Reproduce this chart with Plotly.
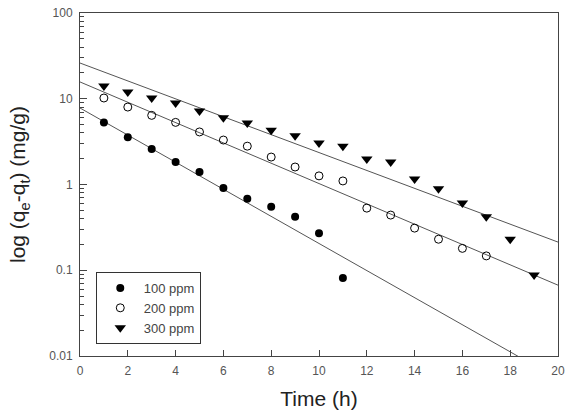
import plotly.graph_objects as go

# Data
t100 = [1, 2, 3, 4, 5, 6, 7, 8, 9, 10, 11]
q100 = [5.3, 3.55, 2.6, 1.83, 1.40, 0.91, 0.68, 0.55, 0.42, 0.27, 0.081]

t200 = [1, 2, 3, 4, 5, 6, 7, 8, 9, 10, 11, 12, 13, 14, 15, 16, 17]
q200 = [10.2, 8.0, 6.4, 5.3, 4.1, 3.3, 2.8, 2.09, 1.6, 1.26, 1.1, 0.53, 0.44, 0.31, 0.23, 0.18, 0.147]

t300 = [1, 2, 3, 4, 5, 6, 7, 8, 9, 10, 11, 12, 13, 14, 15, 16, 17, 18, 19]
q300 = [14.1, 12.0, 10.2, 8.9, 7.2, 6.0, 5.2, 4.3, 3.7, 3.05, 2.8, 1.98, 1.83, 1.16, 0.89, 0.61, 0.42, 0.23, 0.088]

# Fitted lines (end points)
fit_t = [0, 20]
fit100 = [7.8, 0.0054]
fit200 = [15.7, 0.067]
fit300 = [26.1, 0.213]

labels = ["100 ppm", "200 ppm", "300 ppm"]

line_col = "#555555"
fig = go.Figure()

for fy in (fit100, fit200, fit300):
    fig.add_trace(go.Scatter(x=fit_t, y=fy, mode="lines",
                             line=dict(color=line_col, width=1),
                             showlegend=False, hoverinfo="skip"))

fig.add_trace(go.Scatter(x=t100, y=q100, mode="markers", name=labels[0],
                         marker=dict(symbol="circle", size=8, color="black")))
fig.add_trace(go.Scatter(x=t200, y=q200, mode="markers", name=labels[1],
                         marker=dict(symbol="circle-open", size=8, color="black",
                                     line=dict(width=1, color="black"))))
fig.add_trace(go.Scatter(x=t300, y=q300, mode="markers", name=labels[2],
                         marker=dict(symbol="triangle-down", size=10, color="black")))

axis_col = "#444444"
fig.update_layout(
    width=571, height=410,
    margin=dict(l=80, r=13, t=13, b=54),
    paper_bgcolor="white", plot_bgcolor="white",
    font=dict(family="Liberation Sans, Arial, sans-serif", color="#333333"),
    xaxis=dict(range=[0, 20], dtick=2, ticks="inside", ticklen=6, tickcolor=axis_col,
               showline=True, linecolor=axis_col, linewidth=1, mirror=True,
               showgrid=False, zeroline=False, automargin=False,
               ticklabelstandoff=4,
               tickfont=dict(size=12, color="#555555"),
               title=dict(text="Time (h)", font=dict(size=21, color="#222222"), standoff=15)),
    yaxis=dict(type="log", range=[-2, 2], dtick=1, ticks="inside", ticklen=7, tickcolor=axis_col,
               showline=True, linecolor=axis_col, linewidth=1, mirror=True,
               showgrid=False, zeroline=False, automargin=False,
               ticklabelstandoff=4,
               minor=dict(dtick="D1", ticks="inside", ticklen=4, tickcolor=axis_col, showgrid=False),
               tickfont=dict(size=12, color="#555555"),
               title=dict(text="log (q<sub>e</sub>-q<sub>t</sub>) (mg/g)",
                          font=dict(size=21, color="#222222"), standoff=17)),
    legend=dict(x=0.033, y=0.245, xanchor="left", yanchor="top",
                bordercolor="#333333", borderwidth=1, bgcolor="white",
                itemwidth=37,
                font=dict(size=13, color="#444444"), tracegroupgap=0),
)

fig.write_html("out.html")
